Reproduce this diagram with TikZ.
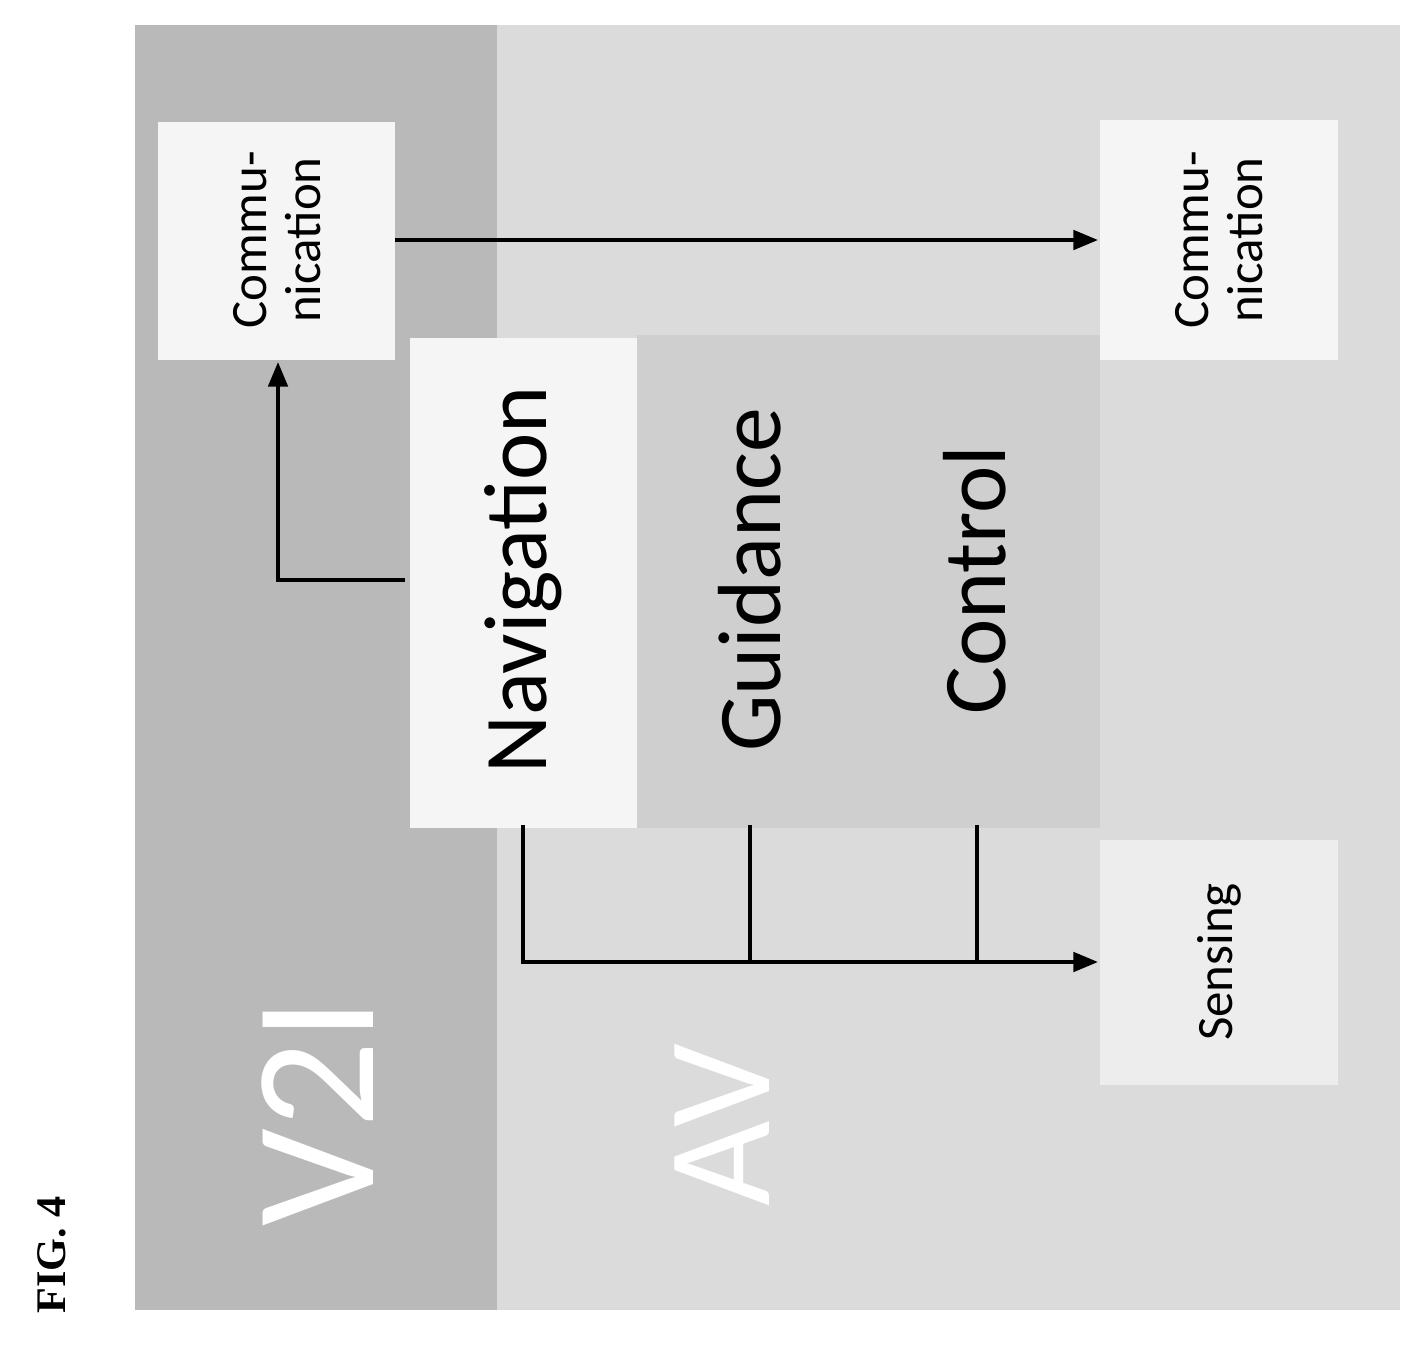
\documentclass[tikz,border=0pt]{standalone}
\usepackage{fontspec}
\setmainfont{Carlito}
\newfontfamily\figfont{Liberation Serif}
\usetikzlibrary{positioning,arrows.meta}
\begin{document}
\begin{tikzpicture}[x=0.02cm,y=-0.02cm,>={Triangle[length=14pt,width=11pt]},line width=2.2pt,
  lbl/.style={rotate=90,font=\fontsize{29}{31}\selectfont,align=center},
  big/.style={rotate=90,font=\fontsize{51}{53}\selectfont},
  huge/.style={rotate=90,font=\fontsize{#1}{#1}\selectfont,text=white}]
\useasboundingbox (0,0) rectangle (1422,1349);
% regions
\fill[gray!28] (135,25) rectangle (1400,1310);
\fill[gray!55] (135,25) rectangle (497,1310);
\fill[gray!38] (637,335) rectangle (1100,828);
\fill[gray!8] (158,122) rectangle (395,360);
\fill[gray!8] (1100,120) rectangle (1338,360);
\fill[gray!8] (410,338) rectangle (637,828);
\fill[gray!14] (1100,840) rectangle (1338,1085);
% texts
\node[rotate=90,font=\figfont\bfseries\fontsize{24}{26}\selectfont] (fig) at (52,1255) {FIG. 4};
\node[huge=98] (vti) at (318,1112) {V2I};
\node[huge=84] (av) at (722,1125) {AV};
\node[lbl] (comma) at (277,240) {Commu-\\nication};
\node[lbl] (commb) at (1219,240) {Commu-\\nication};
\node[big] (nav) at (523,580) {Navigation};
\node[big] (guid) at (750,580) {Guidance};
\node[big] (ctrl) at (975,580) {Control};
\node[lbl] (sens) at (1219,962) {Sensing};
% connectors
\coordinate (ca) at (395,240);
\coordinate (cb) at (1098,240);
\draw[->] (ca) -- (cb);
\coordinate (na) at (405,580);
\coordinate (nb) at (278,362);
\draw[->] (na) -- (278,580) -- (nb);
\coordinate (n1) at (523,825);
\coordinate (g1) at (750,825);
\coordinate (c1) at (977,825);
\coordinate (se) at (1098,962);
\draw (g1) -- (750,962);
\draw (c1) -- (977,962);
\draw[->] (n1) -- (523,962) -- (se);
\end{tikzpicture}
\end{document}
